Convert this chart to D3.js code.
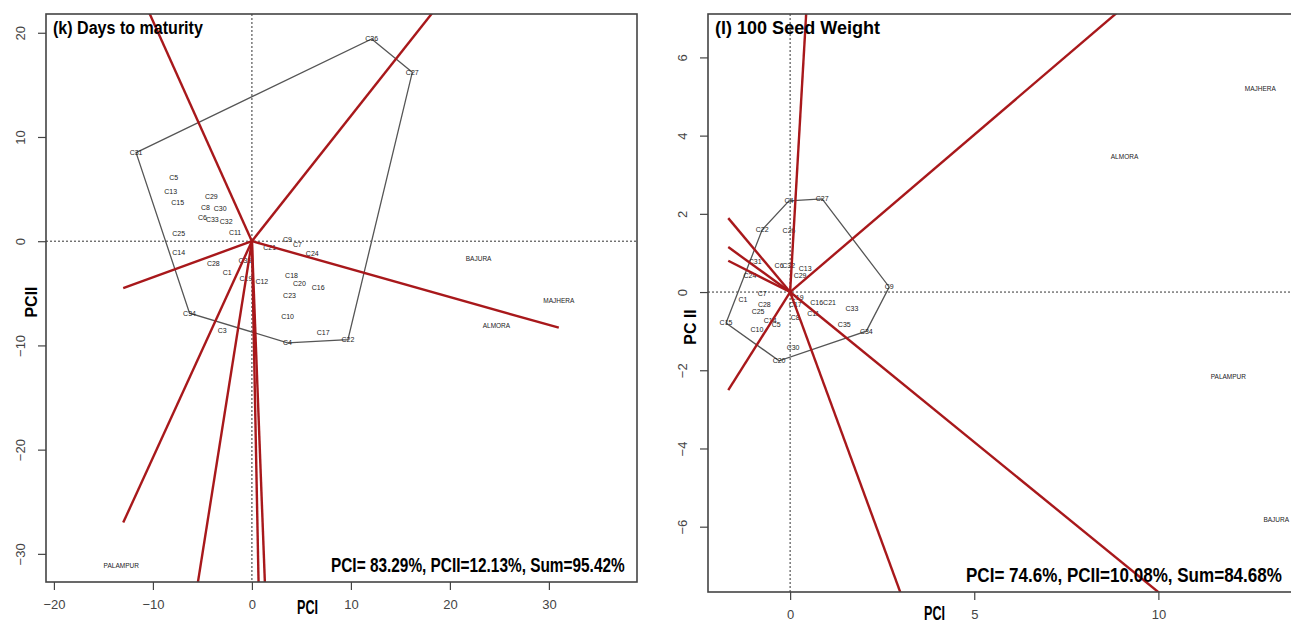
<!DOCTYPE html>
<html>
<head>
<meta charset="utf-8">
<script src="https://cdn.jsdelivr.net/npm/d3@7"></script>
<style>
  body { margin: 0; background: #fff; }
  svg { display: block; }
</style>
</head>
<body>
<div id="chart"></div>
<script>
// ---- (k) Days to maturity ----
const kGenoNames = ["C31","C36","C27","C22","C4","C34","C3","C5","C13","C15","C29","C8","C30","C6","C33","C32","C11","C25","C14","C28","C1","C35","C19","C12","C9","C7","C21","C24","C18","C20","C16","C23","C10","C17"];
const kGenoX = [-11.7,12.1,16.2,9.7,3.6,-6.3,-3.0,-7.9,-8.2,-7.5,-4.1,-4.7,-3.2,-5.0,-4.0,-2.6,-1.7,-7.4,-7.4,-3.9,-2.5,-0.7,-0.6,1.0,3.6,4.6,1.8,6.1,4.0,4.8,6.7,3.8,3.6,7.2];
const kGenoY = [8.5,19.4,16.2,-9.45,-9.75,-6.9,-8.6,6.1,4.8,3.7,4.3,3.2,3.1,2.25,2.1,1.9,0.8,0.7,-1.1,-2.1,-3.0,-1.9,-3.6,-3.9,0.15,-0.35,-0.6,-1.2,-3.3,-4.1,-4.4,-5.2,-7.2,-8.8];
const kHull = ["C31","C36","C27","C22","C4","C34"];
const kEnvNames = ["BAJURA","MAJHERA","ALMORA","PALAMPUR"];
const kEnvX = [22.9,31.0,24.7,-13.2];
const kEnvY = [-1.7,-5.7,-8.1,-31.1];
const kRayX = [-12.4,21.8,-13.0,31.0,-13.0,-6.5,1.56,0.8];
const kRayY = [26.2,26.2,-4.5,-8.3,-27.0,-39,-39,-39];
const kTicksX = [-20,-10,0,10,20,30];
const kTicksY = [-30,-20,-10,0,10,20];

// ---- (l) 100 Seed Weight ----
const lGenoNames = ["C4","C27","C9","C34","C35","C33","C20","C30","C15","C10","C14","C5","C1","C7","C28","C25","C24","C31","C22","C26","C6","C32","C13","C29","C17","C19","C8","C16","C21","C11"];
const lGenoX = [-0.03,0.87,2.69,2.07,1.47,1.68,-0.3,0.08,-1.74,-0.9,-0.54,-0.38,-1.28,-0.76,-0.7,-0.87,-1.09,-0.95,-0.76,-0.03,-0.3,-0.04,0.41,0.27,0.14,0.19,0.14,0.72,1.07,0.63];
const lGenoY = [2.33,2.38,0.13,-1.0,-0.82,-0.43,-1.76,-1.43,-0.79,-0.95,-0.72,-0.84,-0.2,-0.03,-0.33,-0.51,0.41,0.77,1.59,1.56,0.69,0.69,0.61,0.41,-0.33,-0.13,-0.66,-0.28,-0.26,-0.54];
const lHull = ["C4","C27","C9","C34","C20","C15","C22"];
const lEnvNames = ["MAJHERA","ALMORA","PALAMPUR","BAJURA"];
const lEnvX = [12.77,9.08,11.9,13.2];
const lEnvY = [5.19,3.45,-2.17,-5.83];
const lRayX = [0.49,10.6,11.0,3.29,-1.68,-1.68,-1.68,-1.68];
const lRayY = [8.0,8.53,-8.44,-8.44,-2.51,1.89,1.15,0.8];
const lTicksX = [0,5,10];
const lTicksY = [-6,-4,-2,0,2,4,6];

const bold = "'Liberation Sans','Open Sans',Arial,sans-serif";
const plain = "'Liberation Sans',Arial,sans-serif";

const svg = d3.select("#chart").append("svg")
    .attr("width", 1291)
    .attr("height", 626);

// the reference uses a condensed bold face; squeeze a normal bold one horizontally to the same width
function squeezed(g, x, y, size, width, txt) {
    const t = g.append("text")
        .style("font-family", bold).style("font-weight", "bold").style("font-size", size + "px")
        .text(txt);
    const natural = t.node().getComputedTextLength();
    t.attr("transform", `translate(${x},${y}) scale(${width / natural},1)`);
    return t;
}

function drawPanel(p) {
    const x = d3.scaleLinear(p.xDomain, [p.left, p.right]);
    const y = d3.scaleLinear(p.yDomain, [p.bottom, p.top]);
    const g = svg.append("g");

    g.append("clipPath").attr("id", p.id + "-clip")
        .append("rect")
        .attr("x", p.left).attr("y", p.top)
        .attr("width", p.right - p.left).attr("height", p.bottom - p.top);

    const inner = g.append("g").attr("clip-path", `url(#${p.id}-clip)`);

    // dotted zero lines
    inner.append("line")
        .attr("x1", x(0)).attr("x2", x(0)).attr("y1", p.top).attr("y2", p.bottom)
        .attr("stroke", "#333").attr("stroke-width", 1).attr("stroke-dasharray", "2,2");
    inner.append("line")
        .attr("x1", p.left).attr("x2", p.right).attr("y1", y(0)).attr("y2", y(0))
        .attr("stroke", "#333").attr("stroke-width", 1).attr("stroke-dasharray", "2,2");

    // hull polygon
    const pts = p.hull.map(n => {
        const i = p.gNames.indexOf(n);
        return [x(p.gX[i]), y(p.gY[i])];
    });
    inner.append("path")
        .attr("d", d3.line()(pts) + "Z")
        .attr("fill", "none")
        .attr("stroke", "#555")
        .attr("stroke-width", 1.3);

    // genotype labels
    inner.selectAll("text.geno")
        .data(p.gNames)
        .join("text")
        .attr("class", "geno")
        .attr("x", (d, i) => x(p.gX[i]))
        .attr("y", (d, i) => y(p.gY[i]))
        .attr("dy", "0.35em")
        .attr("text-anchor", "middle")
        .style("font-family", plain)
        .style("font-size", "7px")
        .style("fill", "#222")
        .text(d => d);

    // environment labels
    inner.selectAll("text.env")
        .data(p.eNames)
        .join("text")
        .attr("class", "env")
        .attr("x", (d, i) => x(p.eX[i]))
        .attr("y", (d, i) => y(p.eY[i]))
        .attr("dy", "0.35em")
        .attr("text-anchor", "middle")
        .style("font-family", plain)
        .style("font-size", "6.5px")
        .style("fill", "#222")
        .text(d => d);

    // red rays from origin
    inner.selectAll("line.ray")
        .data(p.rX)
        .join("line")
        .attr("class", "ray")
        .attr("x1", x(0)).attr("y1", y(0))
        .attr("x2", d => x(d))
        .attr("y2", (d, i) => y(p.rY[i]))
        .attr("stroke", "#a8181b")
        .attr("stroke-width", 2.4);

    // frame
    g.append("rect")
        .attr("x", p.left).attr("y", p.top)
        .attr("width", p.right - p.left).attr("height", p.bottom - p.top)
        .attr("fill", "none").attr("stroke", "#444").attr("stroke-width", 1.6);

    // axes
    const xAxis = g.append("g")
        .attr("transform", `translate(0,${p.bottom})`)
        .call(d3.axisBottom(x).tickValues(p.tx).tickSize(8).tickPadding(10).tickFormat(d3.format("d")));
    xAxis.select(".domain").remove();
    xAxis.selectAll("line").attr("stroke", "#444").attr("stroke-width", 1.2);
    xAxis.selectAll("text").style("font-family", plain).style("font-size", "13px").style("fill", "#444");

    const yAxis = g.append("g")
        .attr("transform", `translate(${p.left},0)`)
        .call(d3.axisLeft(y).tickValues(p.ty).tickSize(8).tickFormat(d3.format("d")));
    yAxis.select(".domain").remove();
    yAxis.selectAll("line").attr("stroke", "#444").attr("stroke-width", 1.2);
    yAxis.selectAll("text")
        .attr("x", null).attr("dy", null)
        .attr("transform", `translate(${p.yLabX - p.left},0) rotate(-90)`)
        .attr("text-anchor", "middle")
        .attr("dy", "0.35em")
        .style("font-family", plain).style("font-size", "13px").style("fill", "#444");

    // titles
    squeezed(g, p.left + 7, p.top + 20, 19, p.titleW, p.title);
    squeezed(g, p.statX, p.bottom - 10, 20, p.statW, p.stats);
    squeezed(g, p.xLab[0], p.xLab[1], 21, 21, "PCI");
    g.append("text")
        .attr("transform", `translate(${p.yLab[0]},${p.yLab[1]}) rotate(-90)`)
        .attr("text-anchor", "middle")
        .attr("dy", "0.35em")
        .style("font-family", plain).style("font-weight", "bold").style("font-size", "16px")
        .text(p.yTitle);
}

drawPanel({
    id: "k", left: 46, right: 637, top: 14, bottom: 582,
    xDomain: [-20.8, 38.9], yDomain: [-32.7, 21.8],
    gNames: kGenoNames, gX: kGenoX, gY: kGenoY, hull: kHull,
    eNames: kEnvNames, eX: kEnvX, eY: kEnvY,
    rX: kRayX, rY: kRayY, tx: kTicksX, ty: kTicksY,
    yLabX: 20, title: "(k) Days to maturity", titleW: 150,
    stats: "PCI= 83.29%, PCII=12.13%, Sum=95.42%", statX: 331, statW: 294,
    xLab: [297, 614], yLab: [31, 302], yTitle: "PCII"
});

drawPanel({
    id: "l", left: 708, right: 1302, top: 14, bottom: 592,
    xDomain: [-2.23, 13.9], yDomain: [-7.67, 7.11],
    gNames: lGenoNames, gX: lGenoX, gY: lGenoY, hull: lHull,
    eNames: lEnvNames, eX: lEnvX, eY: lEnvY,
    rX: lRayX, rY: lRayY, tx: lTicksX, ty: lTicksY,
    yLabX: 682, title: "(l) 100 Seed Weight", titleW: 165,
    stats: "PCI= 74.6%, PCII=10.08%, Sum=84.68%", statX: 966, statW: 316,
    xLab: [924, 620], yLab: [690, 327], yTitle: "PC II"
});
</script>
</body>
</html>
